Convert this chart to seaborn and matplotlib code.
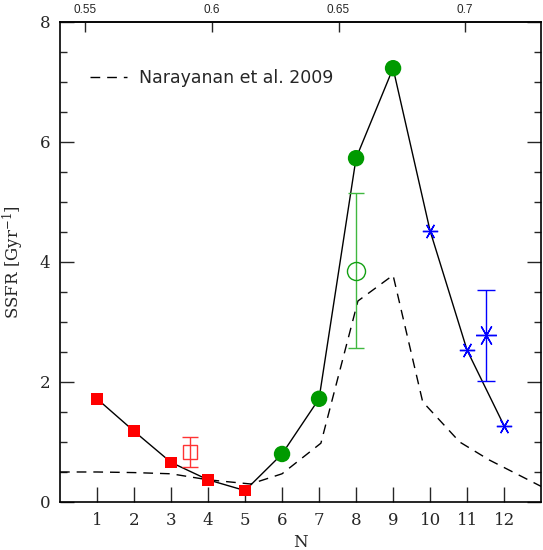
import matplotlib
matplotlib.use("Agg")
import matplotlib.pyplot as plt
import seaborn as sns
import numpy as np
import pandas as pd

# ---- data ----
red_N = [1, 2, 3, 4, 5]
red_ssfr = [1.72, 1.18, 0.66, 0.37, 0.19]
green_N = [6, 7, 8, 9]
green_ssfr = [0.80, 1.72, 5.73, 7.23]
blue_N = [10, 11, 12]
blue_ssfr = [4.52, 2.53, 1.27]

# averaged points with error bars
red_avg_N, red_avg_val, red_avg_lo, red_avg_hi = 3.5, 0.83, 0.58, 1.08
green_avg_N, green_avg_val, green_avg_lo, green_avg_hi = 8.0, 3.85, 2.57, 5.15
blue_avg_N, blue_avg_val, blue_avg_lo, blue_avg_hi = 11.5, 2.78, 2.02, 3.53

# Narayanan et al. 2009 model curve
nar_N = [0, 1, 2, 3, 4, 5.15, 6, 7.05, 8.05, 9.0, 9.8, 10.8, 11.6, 13]
nar_ssfr = [0.50, 0.50, 0.49, 0.47, 0.37, 0.30, 0.47, 0.98, 3.35, 3.78, 1.67, 1.00, 0.70, 0.26]

x_ticks = list(range(1, 13))
y_ticks = [0, 2, 4, 6, 8]
top_ticks = [0.55, 0.6, 0.65, 0.7]
top_labels = ["0.55", "0.6", "0.65", "0.7"]

# ---- plotting ----
sns.set_style("ticks")
plt.rcParams["font.family"] = ["DejaVu Serif"]
plt.rcParams["mathtext.fontset"] = "dejavuserif"

fig = plt.figure(figsize=(5.43, 5.5), dpi=100)
ax = fig.add_axes([0.1105, 0.0873, 0.886, 0.8727])

all_N = red_N + green_N + blue_N
all_v = red_ssfr + green_ssfr + blue_ssfr
main_df = pd.DataFrame({"N": all_N, "SSFR": all_v})
nar_df = pd.DataFrame({"N": nar_N, "SSFR": nar_ssfr})

sns.lineplot(data=nar_df, x="N", y="SSFR", ax=ax, color="black", lw=1.0,
             dashes=False, sort=False, estimator=None, label="Narayanan et al. 2009")
ax.lines[-1].set_dashes((7, 5))
sns.lineplot(data=main_df, x="N", y="SSFR", ax=ax, color="black", lw=1.0,
             sort=False, estimator=None, legend=False)

sns.scatterplot(x=red_N, y=red_ssfr, ax=ax, marker="s", s=70, color="#ff0000",
                edgecolor="none", zorder=5, legend=False)
sns.scatterplot(x=green_N, y=green_ssfr, ax=ax, marker="o", s=140, color="#009a00",
                edgecolor="none", zorder=5, legend=False)
ax.plot(blue_N, blue_ssfr, linestyle="none", marker=(6, 2, 90), markersize=11,
        markeredgecolor="#0000ff", markeredgewidth=1.0, zorder=5)

# averaged points
ax.errorbar([red_avg_N], [red_avg_val],
            yerr=[[red_avg_val - red_avg_lo], [red_avg_hi - red_avg_val]],
            fmt="s", ms=10, mfc="none", mec="#ff3333", mew=1.0,
            ecolor="#ff3333", elinewidth=1.0, capsize=6, capthick=1.0, zorder=6)
ax.errorbar([green_avg_N], [green_avg_val],
            yerr=[[green_avg_val - green_avg_lo], [green_avg_hi - green_avg_val]],
            fmt="o", ms=13, mfc="none", mec="#13a013", mew=1.0,
            ecolor="#40b840", elinewidth=1.0, capsize=6, capthick=1.0, zorder=6)
ax.errorbar([blue_avg_N], [blue_avg_val],
            yerr=[[blue_avg_val - blue_avg_lo], [blue_avg_hi - blue_avg_val]],
            fmt="none", ecolor="#0000ff", elinewidth=1.0, capsize=6.5, capthick=1.0, zorder=6)
ax.plot([blue_avg_N], [blue_avg_val], linestyle="none", marker=(6, 2, 90), markersize=15,
        markeredgecolor="#0000ff", markeredgewidth=1.0, zorder=6)

ax.set_xlim(0, 13)
ax.set_ylim(0, 8)
ax.set_xticks(x_ticks)
ax.set_yticks(y_ticks)
ax.set_yticks(np.arange(0, 8.01, 0.5), minor=True)
ax.tick_params(axis="x", which="major", direction="in", length=11, width=1,
               labelsize=12, pad=7, top=False)
ax.tick_params(axis="y", which="major", direction="in", length=10, width=1,
               labelsize=12, pad=7, right=True)
ax.tick_params(axis="y", which="minor", direction="in", length=5, width=1, right=True)
for s in ax.spines.values():
    s.set_linewidth(1.2)
    s.set_color("black")

ax.set_xlabel("N", fontsize=12, labelpad=4)
ax.set_ylabel("SSFR [Gyr$^{-1}$]", fontsize=12, labelpad=10)

def n_to_z(n):
    return 0.55 + (np.asarray(n) - 0.686) * 0.01462

def z_to_n(z):
    return (np.asarray(z) - 0.55) / 0.01462 + 0.686

sec = ax.secondary_xaxis("top", functions=(n_to_z, z_to_n))
sec.set_xticks(top_ticks)
sec.set_xticklabels(top_labels, family="Liberation Sans")
sec.tick_params(direction="in", length=7, width=1, labelsize=8.5, pad=4)
sec.spines["top"].set_linewidth(1.2)

leg = ax.legend(loc="upper left", bbox_to_anchor=(0.03, 0.935), frameon=False,
                handlelength=2.1, handletextpad=0.7,
                prop={"family": "DejaVu Sans", "size": 12.5})

fig.savefig("out.png", dpi=100)
